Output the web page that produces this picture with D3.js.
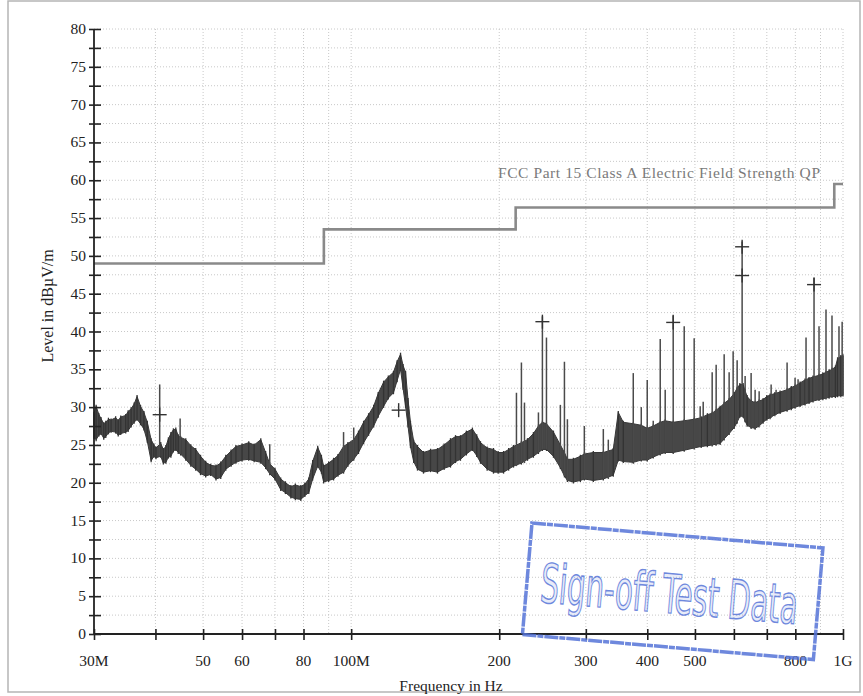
<!DOCTYPE html>
<html>
<head>
<meta charset="utf-8">
<script src="https://cdn.jsdelivr.net/npm/d3@7"></script>
<style>
  body { margin: 0; background: #fff; }
  .serif { font-family: "Liberation Serif", "Times New Roman", serif; }
  .stamp { font-family: "Liberation Sans Narrow", "DejaVu Sans Condensed", "Roboto", sans-serif; font-stretch: condensed; }
</style>
</head>
<body>
<div id="chart"></div>
<script>

const WIDTH = 863;
const HEIGHT = 696;

// Measured trace, shown as the low / high envelope of the sweep (MHz, dBuV/m).
const freqMHz = [30.0, 30.3, 30.7, 31.0, 31.4, 31.7, 32.1, 32.5, 33.2, 33.6, 34.0, 34.8, 35.2, 35.7, 36.2, 36.7, 37.3, 37.9, 38.5, 39.2,
  39.7, 40.1, 41.0, 41.5, 42.0, 42.5, 43.0, 43.5, 44.0, 44.5, 45.0, 46.1, 47.2, 48.3, 49.4, 50.6, 51.8, 53.1, 54.3, 55.6,
  57.0, 58.3, 60.0, 61.9, 63.5, 65.5, 67.0, 68.3, 70.0, 71.9, 73.5, 75.4, 77.0, 79.0, 80.5, 82.0, 83.5, 85.5, 87.0, 87.9,
  90.0, 92.1, 94.0, 96.5, 98.5, 101.2, 103.5, 106.0, 108.5, 111.1, 113.5, 116.4, 119.0, 121.9, 124.0, 126.0, 127.5, 129.0, 130.5, 132.0,
  134.0, 136.4, 140.3, 145.0, 149.8, 154.5, 159.2, 163.0, 166.8, 171.5, 176.4, 180.0, 183.2, 189.0, 194.7, 199.0, 204.1, 209.0, 213.8, 221.9,
  228.3, 234.7, 240.3, 244.8, 249.5, 257.8, 266.3, 271.4, 275.2, 283.0, 292.4, 297.9, 310.7, 325.6, 341.1, 349.2, 357.5, 374.6, 388.9, 399.9,
  411.3, 425.0, 435.0, 451.6, 475.5, 498.2, 514.8, 530, 542.0, 552, 562.6, 573.3, 586.8, 600.7, 609.2, 617, 626.5, 632, 638.4, 650.4,
  662.7, 675, 688.0, 700, 710.9, 727, 744.9, 769.7, 785, 799.0, 818, 837.2, 853, 869.1, 893.8, 910, 923.5, 937, 949.8, 965,
  975, 990, 1000];
const bandLow = [26.0, 25.7, 26.3, 26.5, 25.9, 26.1, 26.6, 26.8, 26.7, 26.3, 26.5, 26.7, 26.9, 27.5, 28.0, 28.4, 27.8, 27.1, 25.5, 22.9,
  23.5, 23.3, 23.5, 22.6, 22.7, 23.4, 23.5, 24.2, 24.4, 24.0, 23.8, 23.1, 22.3, 21.8, 21.2, 20.9, 21.1, 20.5, 20.7, 21.8,
  22.3, 22.7, 23.0, 23.1, 22.9, 22.7, 22.0, 21.2, 20.5, 19.1, 18.7, 18.1, 17.9, 17.8, 18.3, 18.7, 20.5, 22.2, 21.4, 20.1,
  20.3, 20.5, 21.0, 21.4, 22.3, 23.1, 24.0, 25.3, 26.4, 27.5, 28.8, 30.1, 31.2, 31.9, 33.5, 35.0, 32.5, 30.1, 27.5, 24.8,
  22.8, 21.8, 21.4, 21.6, 21.4, 21.9, 22.2, 22.8, 23.1, 23.8, 24.4, 23.6, 22.7, 21.8, 21.4, 21.4, 21.4, 21.8, 22.2, 22.6,
  23.1, 23.5, 24.0, 24.4, 24.4, 23.5, 22.0, 20.9, 20.3, 20.1, 20.3, 20.5, 20.3, 20.5, 21.0, 23.0, 22.8, 22.7, 23.0, 23.0,
  23.4, 23.8, 24.0, 24.0, 24.3, 24.6, 24.8, 24.9, 25.0, 25.1, 25.2, 25.8, 26.5, 27.3, 28.0, 28.8, 28.8, 28.2, 27.6, 27.3,
  27.2, 27.5, 28.0, 28.4, 28.6, 29.0, 29.3, 29.6, 29.8, 30.0, 30.2, 30.4, 30.6, 30.8, 31.0, 31.1, 31.2, 31.3, 31.4, 31.4,
  31.5, 31.5, 31.6];
const bandHigh = [29.2, 30.1, 29.0, 28.5, 27.8, 28.0, 28.4, 28.3, 28.6, 28.2, 28.7, 28.9, 29.4, 29.8, 30.4, 31.4, 30.1, 29.3, 28.0, 25.7,
  25.0, 24.6, 25.2, 24.4, 24.8, 25.8, 26.5, 27.0, 27.1, 26.2, 26.0, 25.7, 24.9, 24.4, 23.5, 22.7, 22.3, 22.2, 22.6, 23.5,
  24.2, 24.8, 25.0, 25.3, 25.0, 25.7, 24.0, 22.5, 21.8, 20.5, 20.0, 19.5, 19.7, 19.5, 19.8, 20.5, 22.8, 24.7, 23.5, 22.2,
  22.6, 23.1, 23.6, 24.8, 25.2, 25.7, 26.7, 28.0, 29.0, 30.1, 31.8, 33.3, 34.0, 34.6, 36.0, 37.0, 35.5, 34.6, 31.0, 28.0,
  25.5, 24.8, 24.0, 24.3, 24.4, 25.0, 25.7, 26.1, 26.1, 26.7, 27.1, 26.2, 25.3, 24.6, 24.4, 24.0, 24.0, 24.4, 24.8, 25.3,
  25.7, 26.5, 27.5, 28.0, 27.8, 26.7, 25.0, 24.0, 23.1, 23.1, 23.5, 23.8, 24.0, 24.0, 24.4, 29.3, 28.0, 27.8, 27.6, 27.2,
  27.5, 28.0, 28.2, 28.0, 28.2, 28.4, 28.6, 29.0, 29.2, 29.6, 30.0, 30.5, 31.0, 31.8, 32.5, 33.0, 33.0, 32.2, 31.4, 30.8,
  30.6, 30.8, 31.0, 31.4, 31.6, 31.8, 32.0, 32.3, 32.6, 32.8, 33.2, 33.6, 33.8, 34.0, 34.2, 34.4, 34.6, 34.8, 35.0, 35.3,
  36.4, 36.7, 36.8];

// Narrow-band spikes above the noise floor.
const spikeFreq = [40.8, 44.9, 68.3, 96.5, 101.2, 216.8, 221.9, 225.1, 240.3, 244.8, 249.5, 266.3, 271.4, 275.2, 297.9, 325.6, 333.3,
  374.6, 388.9, 399.9, 411.3, 425.0, 435.0, 451.6, 475.5, 498.2, 512.4, 519.7, 542.0, 552.2, 573.3, 586.8, 597.9, 609.2, 623.6,
  632.4, 650.4, 662.7, 675.3, 714.3, 731.1, 769.7, 799.0, 810.3, 841.1, 873.2, 893.8, 923.5, 949.8, 981.4, 996];
const spikeLevel = [33.0, 28.5, 25.1, 26.7, 27.3, 31.9, 35.9, 30.6, 29.3, 42.0, 39.2, 30.3, 36.0, 28.4, 27.5, 27.1, 25.7,
  34.5, 30.0, 33.6, 28.2, 39.0, 32.3, 42.2, 40.7, 39.1, 30.1, 30.7, 34.6, 35.6, 37.0, 34.6, 37.4, 36.2, 51.9,
  34.1, 34.5, 32.3, 32.1, 33.0, 32.3, 35.9, 33.9, 33.7, 39.2, 47.1, 40.7, 42.9, 42.1, 40.7, 41.3];

// Quasi-peak final measurements (+ markers).
const markerFreq = [40.8, 124.9, 244.8, 451.6, 623.6, 623.6, 873.2];
const markerLevel = [29.0, 29.6, 41.3, 41.2, 51.2, 47.4, 46.2];

// Limit line, step after each frequency.
const limitFreq = [30, 88, 216, 960, 1000];
const limitLevel = [49, 53.5, 56.4, 59.5, 59.5];
const limitName = "FCC Part 15 Class A Electric Field Strength QP";

// Axes.
const xTickValues = [30, 40, 50, 60, 70, 80, 100, 200, 300, 400, 500, 600, 700, 800, 1000];
const xLabelValues = [30, 50, 60, 80, 100, 200, 300, 400, 500, 800, 1000];
const xLabelText = ["30M", "50", "60", "80", "100M", "200", "300", "400", "500", "800", "1G"];
const xGridValues = [40, 50, 60, 70, 80, 90, 100, 200, 300, 400, 500, 600, 700, 800, 900, 1000];
const yTickValues = d3.range(0, 80.01, 2.5);
const yLabelValues = d3.range(0, 80.01, 5);

const PLOT = {'left': 94, 'right': 843, 'top': 29, 'bottom': 634};

window.onload = function() {

    var svg = d3.select("#chart").append("svg")
                .attr("width", WIDTH)
                .attr("height", HEIGHT);

    // page frame
    svg.append("rect")
       .attr("x", 8).attr("y", 1)
       .attr("width", 852).attr("height", 691)
       .attr("fill", "#fff")
       .attr("stroke", "#b5b5b5")
       .attr("stroke-width", 1.5);

    var x = d3.scaleLog().domain([30, 1000]).range([PLOT.left, PLOT.right]);
    var y = d3.scaleLinear().domain([0, 80]).range([PLOT.bottom, PLOT.top]);

    // grid
    var grid = svg.append("g").attr("class", "grid")
                  .attr("stroke", "#c8c8c8")
                  .attr("stroke-width", 1)
                  .attr("stroke-dasharray", "1,2");
    grid.selectAll("line.h")
        .data(yTickValues.filter(function(d){ return d > 0; }))
        .enter().append("line")
        .attr("x1", PLOT.left).attr("x2", PLOT.right)
        .attr("y1", function(d){ return y(d); })
        .attr("y2", function(d){ return y(d); });
    grid.selectAll("line.v")
        .data(xGridValues)
        .enter().append("line")
        .attr("y1", PLOT.top).attr("y2", PLOT.bottom)
        .attr("x1", function(d){ return x(d); })
        .attr("x2", function(d){ return x(d); });

    // limit line
    var limitPts = limitFreq.map(function(f, i){ return [f, limitLevel[i]]; });
    svg.append("path")
       .datum(limitPts)
       .attr("fill", "none")
       .attr("stroke", "#8a8a8a")
       .attr("stroke-width", 2.6)
       .attr("d", d3.line().curve(d3.curveStepAfter)
                   .x(function(d){ return x(d[0]); })
                   .y(function(d){ return y(d[1]); }));

    svg.append("text")
       .attr("class", "serif")
       .attr("x", 498).attr("y", 178)
       .attr("font-size", "15.5px")
       .attr("textLength", 322)
       .attr("fill", "#7a7a7a")
       .text(limitName);

    // trace band
    var band = freqMHz.map(function(f, i){ return {f: f, lo: bandLow[i], hi: bandHigh[i]}; });
    svg.append("path")
       .datum(band)
       .attr("fill", "#474747")
       .attr("stroke", "#383838")
       .attr("stroke-width", 1)
       .attr("stroke-linejoin", "bevel")
       .attr("d", d3.area()
                   .x(function(d){ return x(d.f); })
                   .y0(function(d){ return y(d.lo); })
                   .y1(function(d){ return y(d.hi); }));

    svg.append("g")
       .selectAll("line")
       .data(band)
       .enter().append("line")
       .attr("x1", function(d){ return x(d.f); })
       .attr("x2", function(d){ return x(d.f); })
       .attr("y1", function(d){ return y(d.lo) + 1.5; })
       .attr("y2", function(d){ return y(d.hi) - 1.5; })
       .attr("stroke", "#333")
       .attr("stroke-width", 1.3);

    // spikes, drawn up from the floor of the nearest sweep point
    var bis = d3.bisector(function(d){ return d.f; }).center;
    svg.append("g")
       .selectAll("line")
       .data(spikeFreq.map(function(f, i){ return {f: f, v: spikeLevel[i]}; }))
       .enter().append("line")
       .attr("x1", function(d){ return x(d.f); })
       .attr("x2", function(d){ return x(d.f); })
       .attr("y1", function(d){ return y(band[bis(band, d.f)].lo); })
       .attr("y2", function(d){ return y(d.v); })
       .attr("stroke", "#4a4a4a")
       .attr("stroke-width", 1.5);

    // markers
    var mk = svg.append("g").attr("stroke", "#333").attr("stroke-width", 1.4);
    markerFreq.forEach(function(f, i){
        var cx = x(f), cy = y(markerLevel[i]);
        mk.append("line").attr("x1", cx - 7).attr("x2", cx + 7).attr("y1", cy).attr("y2", cy);
        mk.append("line").attr("x1", cx).attr("x2", cx).attr("y1", cy - 7).attr("y2", cy + 7);
    });

    // axes
    var xAxis = d3.axisBottom(x).tickValues(xTickValues).tickSize(6).tickFormat("");
    var gx = svg.append("g").attr("transform", "translate(0," + PLOT.bottom + ")").call(xAxis);
    gx.select(".domain").attr("stroke", "#222").attr("stroke-width", 1.8).attr("d", "M" + PLOT.left + ",0H" + PLOT.right);
    gx.selectAll(".tick line").attr("y1", -5).attr("y2", 6).attr("stroke", "#222").attr("stroke-width", 1.6);

    svg.append("g").selectAll("text")
       .data(xLabelValues)
       .enter().append("text")
       .attr("class", "serif")
       .attr("x", function(d){ return x(d); })
       .attr("y", 666)
       .attr("text-anchor", "middle")
       .attr("font-size", "15.5px")
       .attr("fill", "#222")
       .text(function(d, i){ return xLabelText[i]; });

    var yAxis = d3.axisLeft(y).tickValues(yTickValues).tickSize(6).tickFormat("");
    var gy = svg.append("g").attr("transform", "translate(" + PLOT.left + ",0)").call(yAxis);
    gy.select(".domain").attr("stroke", "#222").attr("stroke-width", 1.8).attr("d", "M0," + PLOT.bottom + "V" + PLOT.top);
    gy.selectAll(".tick line").attr("x1", -5).attr("x2", 7).attr("stroke", "#222").attr("stroke-width", 1.6);

    svg.append("g").selectAll("text")
       .data(yLabelValues)
       .enter().append("text")
       .attr("class", "serif")
       .attr("x", 86)
       .attr("y", function(d){ return y(d) + 5; })
       .attr("text-anchor", "end")
       .attr("font-size", "15.5px")
       .attr("fill", "#222")
       .text(function(d){ return d; });

    // axis titles
    svg.append("text")
       .attr("class", "serif")
       .attr("transform", "translate(53,306) rotate(-90)")
       .attr("text-anchor", "middle")
       .attr("font-size", "16px")
       .attr("fill", "#222")
       .text("Level in dB\u00b5V/m");

    svg.append("text")
       .attr("class", "serif")
       .attr("x", 451).attr("y", 691)
       .attr("text-anchor", "middle")
       .attr("font-size", "15.5px")
       .attr("fill", "#222")
       .text("Frequency in Hz");

    // "Sign-off" stamp
    var stamp = svg.append("g")
                   .attr("transform", "translate(532,523) rotate(4.9)")
                   .attr("opacity", 0.85);
    stamp.append("rect")
         .attr("x", 0).attr("y", 0)
         .attr("width", 292).attr("height", 112)
         .attr("fill", "none")
         .attr("stroke", "#5574d8")
         .attr("stroke-width", 3.5)
         .attr("stroke-dasharray", "14,1,6,1");
    var st = stamp.append("text")
         .attr("class", "stamp")
         .attr("x", 0).attr("y", 0)
         .attr("font-size", "54px")
         .attr("fill", "rgba(85,116,216,0.18)")
         .attr("stroke", "#5574d8")
         .attr("stroke-width", 1.4)
         .text("Sign-off Test Data");
    // squeeze the stamp lettering to the box width
    var natural = st.node().getComputedTextLength();
    st.attr("transform", "translate(14,78) scale(" + (258 / natural) + ",1)");
};

</script>
</body>
</html>
